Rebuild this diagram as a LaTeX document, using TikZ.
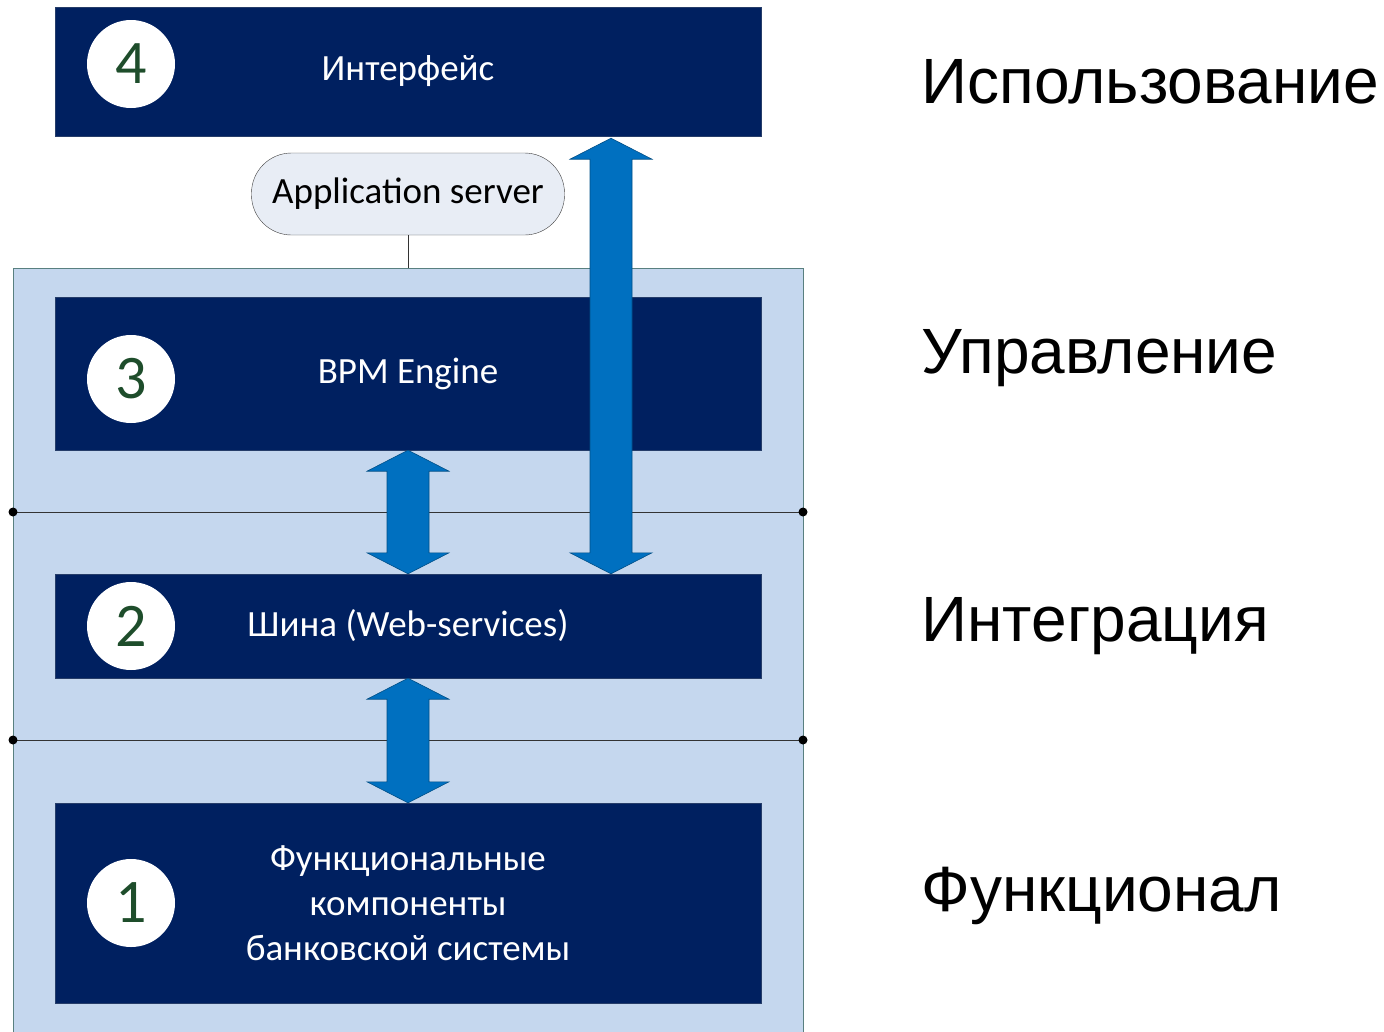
\documentclass[tikz,border=0pt]{standalone}
\usepackage{fontspec}
\setmainfont{Carlito}
\newfontfamily\arialfont{Liberation Sans}
\usetikzlibrary{calc}

\definecolor{navy}{HTML}{002060}
\definecolor{bgblue}{HTML}{C5D7EE}
\definecolor{arrowblue}{HTML}{0070C0}
\definecolor{numgreen}{HTML}{1E4D2B}
\definecolor{pillfill}{HTML}{E8EDF5}

\tikzset{
    layer/.style={fill=navy,draw=navy!70!gray,minimum width=706pt,inner sep=0pt,
        text=white,font=\fontsize{37}{45}\selectfont,align=center},
    num/.style={circle,fill=white,minimum size=88pt,inner sep=0pt,
        text=numgreen,font=\fontsize{62}{62}\selectfont},
    barrow/.style={fill=arrowblue,draw=arrowblue!70!black,line width=0.6pt},
    side/.style={anchor=west,font=\arialfont\fontsize{64}{76}\selectfont},
    dot/.style={circle,fill=black,inner sep=0pt,minimum size=9pt},
}

\begin{document}
\begin{tikzpicture}[x=1pt,y=-1pt]
    \useasboundingbox (0,0) rectangle (1384,1031);
    % platform
    \node[fill=bgblue,draw=gray!70!teal,minimum width=790pt,minimum height=770pt,
        inner sep=0pt,anchor=north west] (platform) at (13,268) {};
    % layers
    \node[layer,minimum height=129pt] (iface) at (408,71.5) {Интерфейс};
    \node[layer,minimum height=153pt] (bpm) at (408,373.5) {BPM Engine};
    \node[layer,minimum height=104pt] (bus) at (408,626) {Шина (Web-services)};
    \node[layer,minimum height=200pt] (func) at (408,903)
        {Функциональные\\компоненты\\банковской системы};
    % numbers
    \node[num] (n4) at (131,64) {4};
    \node[num] (n3) at (131,379) {3};
    \node[num] (n2) at (131,626) {2};
    \node[num] (n1) at (131,903) {1};
    % application server
    \node[draw=black!75,fill=pillfill,rounded corners=40pt,minimum width=313pt,
        minimum height=82pt,inner sep=0pt,font=\fontsize{37}{37}\selectfont] (app) at (408,194)
        {Application server};
    \draw[black!80] (app.south) -- (app.south |- platform.north);
    % separators
    \coordinate (s1l) at (13,512);
    \coordinate (s1r) at (803,512);
    \coordinate (s2l) at (13,740);
    \coordinate (s2r) at (803,740);
    \draw[black!80] (s1l) -- (s1r);
    \draw[black!80] (s2l) -- (s2r);
    \foreach \p in {s1l,s1r,s2l,s2r}
        \node[dot] at (\p) {};
    % arrows
    \draw[barrow] (bpm.south) -- ++(41,21) -- ++(-20,0) -- ($(bus.north)+(21,-21)$)
        -- ++(20,0) -- (bus.north) -- ++(-41,-21) -- ++(20,0)
        -- ($(bpm.south)+(-21,21)$) -- ++(-20,0) -- cycle;
    \draw[barrow] (bus.south) -- ++(41,21) -- ++(-20,0) -- ($(func.north)+(21,-21)$)
        -- ++(20,0) -- (func.north) -- ++(-41,-21) -- ++(20,0)
        -- ($(bus.south)+(-21,21)$) -- ++(-20,0) -- cycle;
    \coordinate (up) at ($(iface.south)+(203,2)$);
    \coordinate (dn) at (up |- bus.north);
    \draw[barrow] (up) -- ++(41,21) -- ++(-20,0) -- ($(dn)+(21,-21)$)
        -- ++(20,0) -- (dn) -- ++(-41,-21) -- ++(20,0)
        -- ($(up)+(-21,21)$) -- ++(-20,0) -- cycle;
    % levels
    \node[side] (use) at (918,82) {Использование};
    \node[side] (ctrl) at (918,358) {Управление};
    \node[side] (integ) at (918,626) {Интеграция};
    \node[side] (funcl) at (918,896) {Функционал};
\end{tikzpicture}
\end{document}
